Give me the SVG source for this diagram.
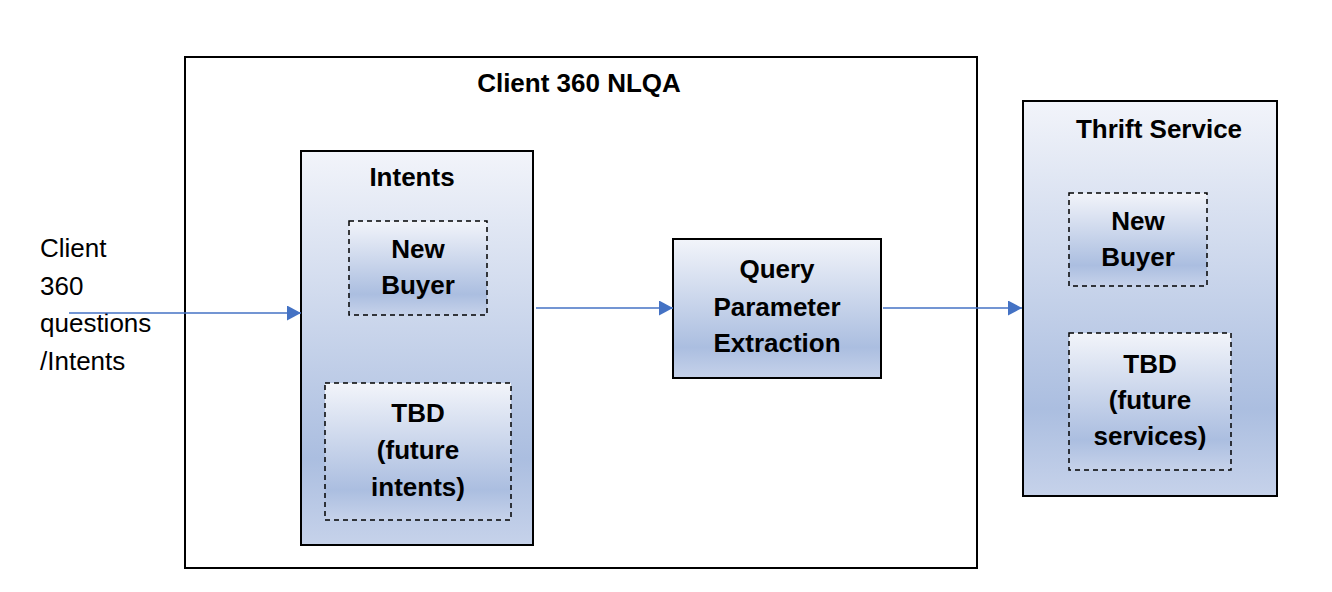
<svg xmlns="http://www.w3.org/2000/svg" width="1332" height="592" viewBox="0 0 1332 592">
<style>
.box{stroke:#000;stroke-width:2;fill:url(#g)}
.dbox{stroke:#000;stroke-width:1.5;stroke-dasharray:5 4;fill:url(#g)}
.t{font-family:"Liberation Sans",Arial,sans-serif;font-weight:bold;font-size:26px;fill:#000;text-anchor:middle}
.l{font-family:"Liberation Sans",Arial,sans-serif;font-size:26px;fill:#000}
.c{stroke:#4472C4;stroke-width:1.6;fill:none;marker-end:url(#a)}
</style>
<defs>
<linearGradient id="g" x1="0" y1="0" x2="0" y2="1">
<stop offset="0" stop-color="#f2f4fa"/>
<stop offset="0.78" stop-color="#abbee0"/>
<stop offset="1" stop-color="#c6d2ea"/>
</linearGradient>
<marker id="a" markerWidth="14" markerHeight="15" refX="14" refY="7.5" orient="auto" markerUnits="userSpaceOnUse">
<path d="M0,0 L14,7.5 L0,15 Z" fill="#4472C4"/>
</marker>
</defs>
<rect width="1332" height="592" fill="#fff"/>
<g id="client360">
<rect x="185" y="57" width="792" height="511" fill="#fff" stroke="#000" stroke-width="2"/>
<text class="t" x="579" y="92">Client 360 NLQA</text>
</g>
<g id="intents">
<rect class="box" x="301" y="151" width="232" height="394"/>
<text class="t" x="412" y="186">Intents</text>
</g>
<g id="intents-newbuyer">
<rect class="dbox" x="349" y="221" width="138" height="94"/>
<text class="t" x="418" y="258">New</text>
<text class="t" x="418" y="294">Buyer</text>
</g>
<g id="intents-tbd">
<rect class="dbox" x="325" y="383" width="186" height="137"/>
<text class="t" x="418" y="422">TBD</text>
<text class="t" x="418" y="459">(future</text>
<text class="t" x="418" y="496">intents)</text>
</g>
<g id="query">
<rect class="box" x="673" y="239" width="208" height="139"/>
<text class="t" x="777" y="278">Query</text>
<text class="t" x="777" y="316">Parameter</text>
<text class="t" x="777" y="352">Extraction</text>
</g>
<g id="thrift">
<rect class="box" x="1023" y="101" width="254" height="395"/>
<text class="t" x="1159" y="138">Thrift Service</text>
</g>
<g id="thrift-newbuyer">
<rect class="dbox" x="1069" y="193" width="138" height="93"/>
<text class="t" x="1138" y="230">New</text>
<text class="t" x="1138" y="266">Buyer</text>
</g>
<g id="thrift-tbd">
<rect class="dbox" x="1069" y="333" width="162" height="137"/>
<text class="t" x="1150" y="373">TBD</text>
<text class="t" x="1150" y="409">(future</text>
<text class="t" x="1150" y="445">services)</text>
</g>
<g id="input-label">
<text class="l" x="40" y="257">Client</text>
<text class="l" x="40" y="295">360</text>
<text class="l" x="40" y="332">questions</text>
<text class="l" x="40" y="370">/Intents</text>
</g>
<g id="connectors">
<line class="c" x1="69" y1="313" x2="301" y2="313"/>
<line class="c" x1="536" y1="308" x2="673" y2="308"/>
<line class="c" x1="883" y1="308" x2="1022" y2="308"/>
</g>
</svg>
